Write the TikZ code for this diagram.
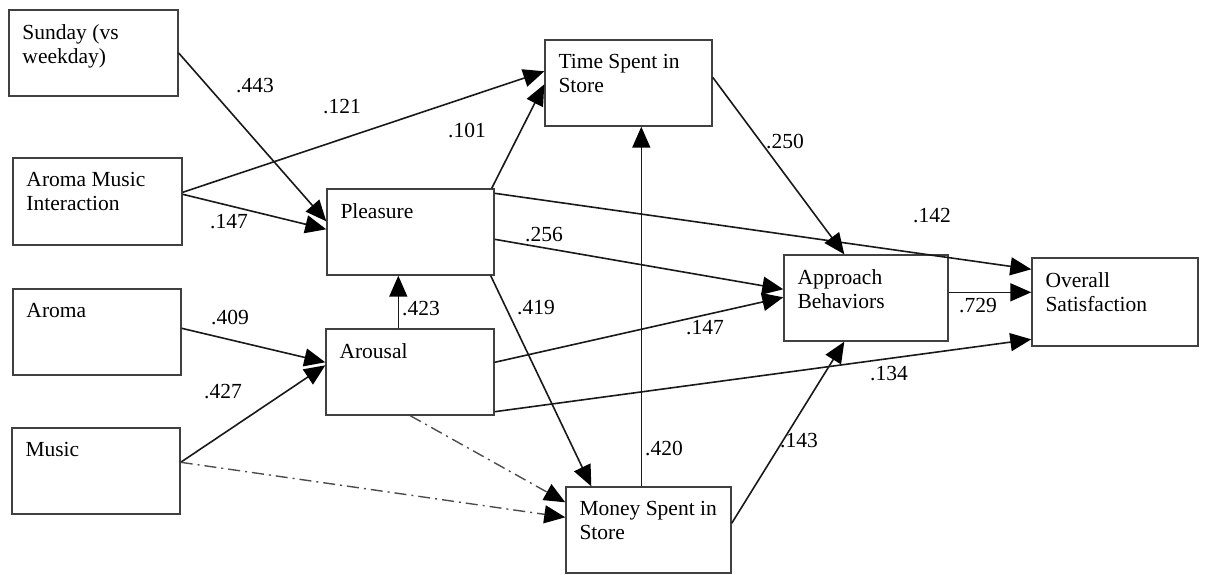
\documentclass[tikz,border=0pt]{standalone}
\usepackage{fontspec}
\setmainfont{Liberation Serif}
\usetikzlibrary{arrows.meta}
\begin{document}
\begin{tikzpicture}[x=1pt,y=-1pt,
  box/.style={draw=black!75,line width=1.4pt,inner sep=0pt,minimum width=#1},
  txt/.style={font=\fontsize{21.5}{24}\selectfont,align=left,inner sep=0pt,anchor=north west},
  lab/.style={font=\fontsize{21.5}{24}\selectfont,inner sep=0pt},
  arr/.style={line width=1.6pt,black!90,-{Triangle[length=21pt,width=18pt,fill=black,color=black]}},
  dd/.style={line width=1.4pt,black!70,dash pattern=on 12pt off 5pt on 2pt off 5pt,-{Triangle[length=21pt,width=18pt,fill=black,color=black]}}]
\useasboundingbox (0,0) rectangle (1211,574);
% boxes
\node[box=169pt,minimum height=86pt] (sun) at (93.5,53) {};
\node[box=169pt,minimum height=87pt] (ami) at (97.5,201.5) {};
\node[box=168pt,minimum height=86pt] (aroma) at (97,332) {};
\node[box=168pt,minimum height=86pt] (music) at (96,471) {};
\node[box=167pt,minimum height=86pt] (pleas) at (410.5,232) {};
\node[box=168pt,minimum height=86pt] (arous) at (410,372) {};
\node[box=167pt,minimum height=86pt] (time) at (628.5,83) {};
\node[box=165pt,minimum height=86pt] (money) at (648.5,530) {};
\node[box=164pt,minimum height=86pt] (appr) at (866,298) {};
\node[box=166pt,minimum height=88pt] (over) at (1115,302) {};
% box texts
\node[txt] (tsun) at ([xshift=14pt,yshift=-15pt]sun.north west) {Sunday (vs\\weekday)};
\node[txt] (tami) at ([xshift=14pt,yshift=-15pt]ami.north west) {Aroma Music\\Interaction};
\node[txt] (taro) at ([xshift=14pt,yshift=-15pt]aroma.north west) {Aroma};
\node[txt] (tmus) at ([xshift=14pt,yshift=-15pt]music.north west) {Music};
\node[txt] (tple) at ([xshift=14pt,yshift=-15pt]pleas.north west) {Pleasure};
\node[txt] (tare) at ([xshift=14pt,yshift=-15pt]arous.north west) {Arousal};
\node[txt] (ttim) at ([xshift=14pt,yshift=-15pt]time.north west) {Time Spent in\\Store};
\node[txt] (tmon) at ([xshift=14pt,yshift=-15pt]money.north west) {Money Spent in\\Store};
\node[txt] (tapp) at ([xshift=14pt,yshift=-15pt]appr.north west) {Approach\\Behaviors};
\node[txt] (tove) at ([xshift=14pt,yshift=-15pt]over.north west) {Overall\\Satisfaction};
% connectors
\draw[arr] (sun.east) -- ([yshift=-33pt]pleas.north west);
\draw[arr] ([yshift=-35pt]ami.north east) -- ([yshift=-32pt]time.north west);
\draw[arr] ([yshift=-37pt]ami.north east) -- ([yshift=-41pt]pleas.north west);
\draw[arr] ([xshift=-3pt]pleas.north east) -- ([yshift=-45pt]time.north west);
\draw[arr] ([yshift=-5pt]pleas.north east) -- ([yshift=-12pt]over.north west);
\draw[arr] ([yshift=-51pt]pleas.north east) -- ([yshift=-35pt]appr.north west);
\draw[arr] ([xshift=-4pt]pleas.south east) -- ([xshift=26pt]money.north west);
\draw[arr] ([yshift=-38pt]time.north east) -- ([xshift=61pt]appr.north west);
\coordinate (au) at ([xshift=73pt]arous.north west);
\draw[arr] (au) -- (au |- pleas.south);
\draw[arr] ([yshift=-40pt]aroma.north east) -- ([yshift=-34pt]arous.north west);
\draw[arr] ([yshift=-35pt]music.north east) -- ([yshift=-37pt]arous.north west);
\draw[dd] ([yshift=-35pt]music.north east) -- ([yshift=-31pt]money.north west);
\draw[dd] ([xshift=85pt]arous.south west) -- ([yshift=-16pt]money.north west);
\draw[arr] ([yshift=-34pt]arous.north east) -- ([yshift=-43pt]appr.north west);
\draw[arr] ([yshift=4pt]arous.south east) -- ([yshift=-82pt]over.north west);
\draw[arr] ([yshift=-38pt]appr.north east) -- ([yshift=-35pt]over.north west);
\coordinate (mu) at ([xshift=76pt]money.north west);
\draw[arr] (mu) -- (mu |- time.south);
\draw[arr] ([yshift=-37pt]money.north east) -- ([xshift=61pt]appr.south west);
% path labels
\node[lab] (l443) at (255,86) {.443};
\node[lab] (l121) at (342,107) {.121};
\node[lab] (l101) at (467,130) {.101};
\node[lab] (l147a) at (229,222) {.147};
\node[lab] (l256) at (544,235) {.256};
\node[lab] (l250) at (785,141) {.250};
\node[lab] (l142) at (932,216) {.142};
\node[lab] (l409) at (230,317) {.409};
\node[lab] (l423) at (421,309) {.423};
\node[lab] (l419) at (536,308) {.419};
\node[lab] (l427) at (223,392) {.427};
\node[lab] (l147b) at (705,328) {.147};
\node[lab] (l729) at (978,306) {.729};
\node[lab] (l134) at (889,374) {.134};
\node[lab] (l420) at (664,448) {.420};
\node[lab] (l143) at (799,441) {.143};
\end{tikzpicture}
\end{document}
